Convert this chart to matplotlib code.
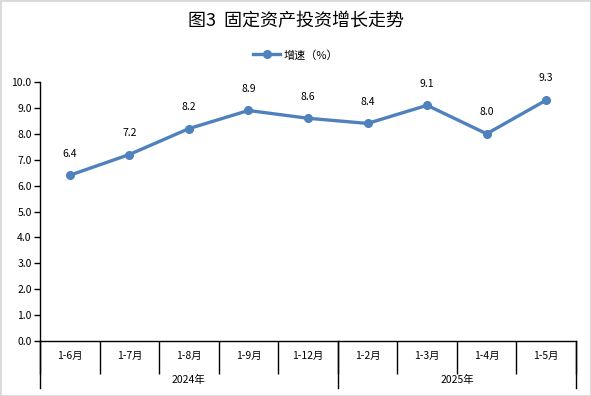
import numpy as np
import matplotlib.pyplot as plt
from matplotlib.ticker import FixedLocator, NullFormatter

plt.rcParams['font.family'] = ['Noto Sans CJK SC', 'DejaVu Sans']

months = ["1-6月", "1-7月", "1-8月", "1-9月", "1-12月", "1-2月", "1-3月", "1-4月", "1-5月"]
values = [6.4, 7.2, 8.2, 8.9, 8.6, 8.4, 9.1, 8.0, 9.3]
years = ["2024年", "2025年"]
year_counts = [5, 4]

color = "#4F81BD"

fig = plt.figure(figsize=(5.91, 3.96), dpi=100)
ax = fig.add_axes([40 / 591, 1 - 341 / 396, 536 / 591, 259 / 396])

x = np.arange(len(values))
ax.plot(x, values, color=color, lw=2.4, marker="o", ms=5.5, zorder=3)
for xi, v in zip(x, values):
    ax.annotate(f"{v:.1f}", (xi, v), xytext=(0, 12), textcoords="offset points",
                ha="center", va="bottom", fontsize=7.5, color="#000000")

ax.set_xlim(-0.5, len(values) - 0.5)
ax.set_ylim(0, 10)
ax.set_yticks(np.arange(0, 10.1, 1.0))
ax.set_yticklabels([f"{t:.1f}" for t in np.arange(0, 10.1, 1.0)], fontsize=7.5)
ax.tick_params(axis="y", length=4, width=1, pad=2)

# category boundaries as major ticks, labels at centres as minor ticks
ax.xaxis.set_major_locator(FixedLocator(np.arange(-0.5, len(values), 1.0)))
ax.xaxis.set_major_formatter(NullFormatter())
ax.xaxis.set_minor_locator(FixedLocator(x))
ax.set_xticklabels(months, minor=True, fontsize=7.5)
ax.tick_params(axis="x", which="major", length=24, width=1, direction="out")
ax.tick_params(axis="x", which="minor", length=0, pad=7)

trans = ax.get_xaxis_transform()
start = -0.5
for yr, n in zip(years, year_counts):
    ax.text(start + n / 2, -39 / 259, yr, transform=trans, ha="center", va="center", fontsize=7.5)
    start += n
edge = -0.5
for n in [0] + year_counts:
    edge += n
    ax.plot([edge, edge], [0, -47 / 259], transform=trans, color="black", lw=1, clip_on=False)

for s in ["top", "right"]:
    ax.spines[s].set_visible(False)
for s in ["left", "bottom"]:
    ax.spines[s].set_linewidth(1)

fig.text(0.5, 1 - 21 / 396, "图3  固定资产投资增长走势", ha="center", va="center", fontsize=13)

ax.legend(["增速（%）"], loc="center", bbox_to_anchor=(0.5, 1 - 55 / 396), bbox_transform=fig.transFigure,
          frameon=False, fontsize=8, handlelength=2.5, handletextpad=0.3)

fig.patches.append(plt.Rectangle((0, 0), 1, 1, transform=fig.transFigure, fill=False,
                                 edgecolor="#d9d9d9", lw=2))

fig.savefig("out.png", dpi=100)
